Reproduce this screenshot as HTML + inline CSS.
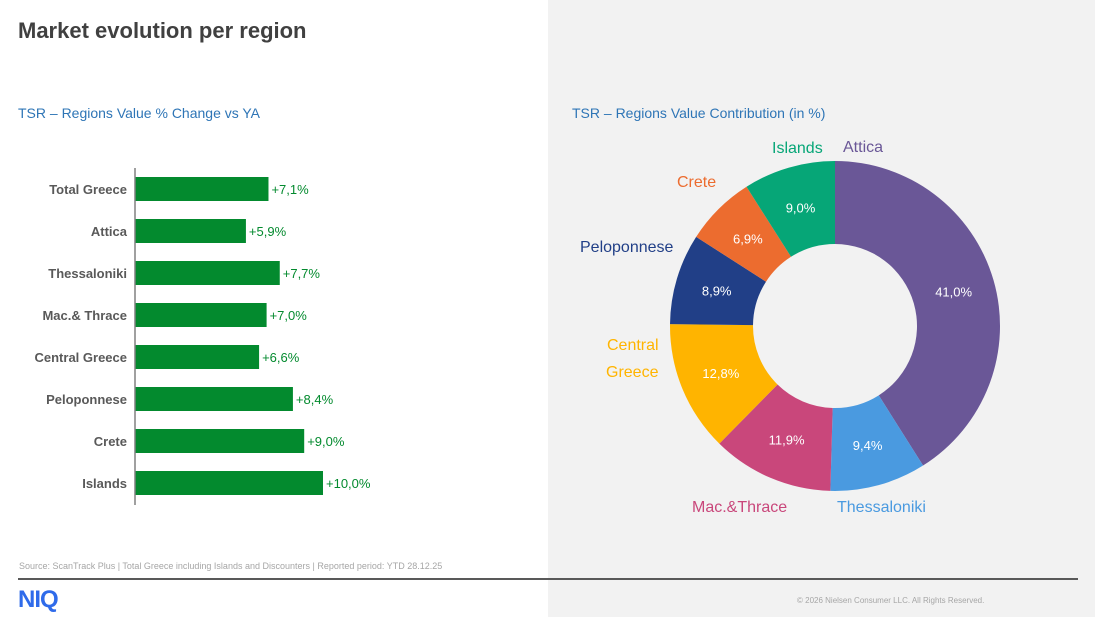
<!DOCTYPE html>
<html><head><meta charset="utf-8"><style>
body{margin:0;width:1095px;height:617px;position:relative;font-family:"Liberation Sans",sans-serif;background:#fff;overflow:hidden}
.abs{position:absolute}
</style></head><body>
<div class="abs" style="left:548px;top:0;width:547px;height:617px;background:#f2f2f2"></div>
<div class="abs" style="left:18px;top:18px;font-size:22px;font-weight:bold;color:#404040">Market evolution per region</div>
<div class="abs" style="left:18px;top:105px;font-size:14px;color:#2e75b6">TSR – Regions Value % Change vs YA</div>
<div class="abs" style="left:572px;top:105px;font-size:14px;color:#2e75b6">TSR – Regions Value Contribution (in %)</div>
<svg class="abs" id="bars" style="left:0;top:0" width="548" height="560"></svg>
<svg class="abs" id="donut" style="left:548px;top:0" width="547" height="560"></svg>
<div class="abs" style="left:19px;top:561px;font-size:9px;color:#a6a6a6">Source: ScanTrack Plus | Total Greece including Islands and Discounters |  Reported period: YTD 28.12.25</div>
<div class="abs" style="left:18px;top:578px;width:1060px;height:2px;background:#595959"></div>
<div class="abs" style="left:18px;top:586px;font-size:24px;font-weight:bold;color:#2f6bea;letter-spacing:-1px">NIQ</div>
<div class="abs" style="left:797px;top:596px;font-size:8px;color:#a6a6a6">© 2026 Nielsen Consumer LLC. All Rights Reserved.</div>
<script>
const categories=["Total Greece","Attica","Thessaloniki","Mac.& Thrace","Central Greece","Peloponnese","Crete","Islands"];
const changes=[7.1,5.9,7.7,7.0,6.6,8.4,9.0,10.0];
const regions=["Attica","Thessaloniki","Mac.&Thrace","Central Greece","Peloponnese","Crete","Islands"];
const shares=[41.0,9.4,11.9,12.8,8.9,6.9,9.0];
const colors=["#6a5797","#4a9ae0","#c9477b","#ffb400","#213f87","#ec6c2f","#06a677"];
const labelColors=["#6a5797","#4a9ae0","#c9477b","#ffb400","#213f87","#ec6c2f","#06a677"];
const NS="http://www.w3.org/2000/svg";
function mk(p,t,a){const e=document.createElementNS(NS,t);for(const k in a)e.setAttribute(k,a[k]);p.appendChild(e);return e;}
const fmt=v=>v.toFixed(1).replace('.',',');
// bar chart
const bs=document.getElementById('bars');
const x0=135,scale=18.8,y0=189,step=42,bh=24;
const xs=v=>x0+v*scale, ys=i=>y0+i*step;
categories.forEach((c,i)=>{
 const r=mk(bs,'rect',{x:x0,y:ys(i)-bh/2,width:xs(changes[i])-x0,height:bh,fill:'#038a2e'});
 
 
 const t=mk(bs,'text',{x:127,y:ys(i)+5,'text-anchor':'end','font-size':13,'font-weight':'bold',fill:'#595959'});t.textContent=c;
 
 
 const v=mk(bs,'text',{x:xs(changes[i])+3,y:ys(i)+5,'font-size':13,fill:'#038a2e'});v.textContent='+'+fmt(changes[i])+'%';
 
 
});
const ax=mk(bs,'line',{x1:x0,x2:x0,y1:168,y2:505,stroke:'#808080','stroke-width':1.5});


// donut
const ds=document.getElementById('donut');
const cx=835-548,cy=326,R=165,r=82;
const total=shares.reduce((a,b)=>a+b,0);
const pt=(a,rad)=>[cx+rad*Math.sin(a),cy-rad*Math.cos(a)];
const outPos=[[15,146,'start'],[35,506,'start'],[-95,506,'start'],[-228,344,'start',"Central"],[-268,246,'start'],[-138,181,'start'],[-62,147,'start']];
let acc=0;
shares.forEach((s,i)=>{
 const a0=acc/total*2*Math.PI;acc+=s;const a1=acc/total*2*Math.PI;
 const lg=(a1-a0)>Math.PI?1:0;
 const [x1,y1]=pt(a0,R),[x2,y2]=pt(a1,R),[x3,y3]=pt(a1,r),[x4,y4]=pt(a0,r);
 const p=mk(ds,'path',{d:`M${x1},${y1}A${R},${R} 0 ${lg} 1 ${x2},${y2}L${x3},${y3}A${r},${r} 0 ${lg} 0 ${x4},${y4}Z`,fill:colors[i]});
 
 
 const am=(a0+a1)/2;const [lx,ly]=pt(am,(R+r)/2);
 const t=mk(ds,'text',{x:lx,y:ly+5,'text-anchor':'middle','font-size':13,fill:'#fff'});t.textContent=fmt(s)+'%';
 
 
});
// outer labels
const lbl=[[843-548,152,"Attica"],[837-548,512,"Thessaloniki"],[692-548,512,"Mac.&Thrace"],[607-548,350,"Central"],[580-548,252,"Peloponnese"],[677-548,187,"Crete"],[772-548,153,"Islands"]];
lbl.forEach((l,i)=>{
 const t=mk(ds,'text',{x:l[0],y:l[1],'font-size':16,fill:labelColors[i]});t.textContent=l[2];
 
 
});
const t2=mk(ds,'text',{x:606-548,y:377,'font-size':16,fill:labelColors[3]});t2.textContent="Greece";


</script>
</body></html>
